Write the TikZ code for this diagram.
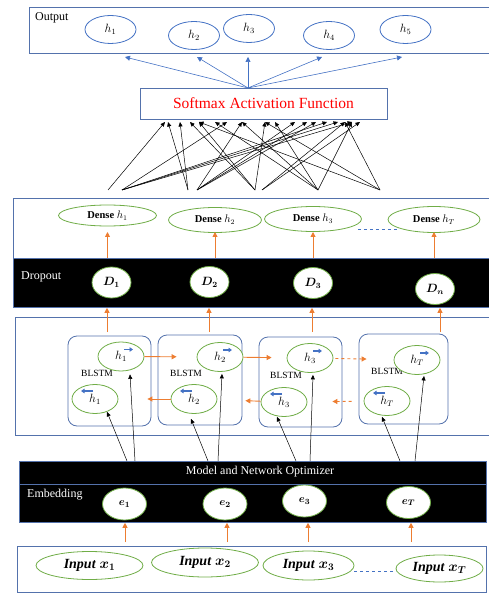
\documentclass[tikz,border=0pt]{standalone}
\usepackage{amsmath}
\usepackage{fontspec}
\setmainfont{Liberation Serif}
\usepackage{tikz}
\usetikzlibrary{positioning, arrows.meta, shapes.geometric}
\definecolor{edgeblue}{RGB}{84,114,172}
\definecolor{ovalgreen}{RGB}{112,173,71}
\definecolor{arrorange}{RGB}{237,125,49}
\definecolor{arrblue}{RGB}{68,114,196}

\begin{document}
\begin{tikzpicture}[x=1pt,y=-1pt,
    layer/.style={draw=edgeblue,line width=0.8pt,inner sep=0pt,anchor=north west},
    darklayer/.style={layer,fill=black},
    oval/.style={ellipse,draw=ovalgreen,fill=white,line width=0.8pt,inner sep=0pt},
    outoval/.style={ellipse,draw=arrblue,line width=0.8pt,inner sep=0pt,minimum width=51,minimum height=28,font=\fontsize{12}{12}\selectfont},
    dense/.style={oval,font=\fontsize{10.5}{12}\selectfont},
    drop/.style={oval,minimum width=39,minimum height=31,font=\fontsize{12}{12}\selectfont},
    hcell/.style={oval,minimum width=46,minimum height=29,font=\fontsize{11.5}{12}\selectfont},
    enode/.style={oval,minimum width=44,minimum height=32,font=\fontsize{11}{12}\selectfont},
    inoval/.style={oval,font=\fontsize{14}{15}\selectfont},
    cell/.style={draw=edgeblue,rounded corners=9pt,line width=0.8pt,minimum height=90},
    tag/.style={font=\fontsize{12}{14}\selectfont,anchor=west,inner sep=0pt},
    blk/.style={-{Triangle[length=4.5pt,width=4pt]},line width=0.5pt},
    org/.style={-{Triangle[length=5pt,width=5pt]},arrorange,line width=0.9pt},
    blu/.style={-{Triangle[length=5pt,width=5pt]},arrblue,line width=0.6pt},
    hvec/.style={-{Triangle[length=3.5pt,width=4.5pt]},arrblue,line width=1.2pt},
    gap/.style={arrblue,dashed,line width=0.7pt}]

\useasboundingbox (0,0) rectangle (488,593);

\node[layer,minimum width=470,minimum height=46] (out) at (29,7) {};
\node[tag] (out_tag) at (35,18) {Output};
\node[outoval] (h_1) at (110.5,29.5) {$h_1$};
\node[outoval] (h_2) at (194,35.5) {$h_2$};
\node[outoval] (h_3) at (249,28.5) {$h_3$};
\node[outoval] (h_4) at (329,35.5) {$h_4$};
\node[outoval] (h_5) at (405.5,29.5) {$h_5$};

\node[draw=edgeblue,line width=0.8pt,minimum width=247,minimum height=31,inner sep=0pt,text=red,font=\fontsize{15.5}{17}\selectfont] (sm) at (263.5,103.5) {Softmax Activation Function};

\coordinate (fan) at (248,88);
\foreach \x [count=\i] in {125,197,248,322,402}
  \coordinate (o_\i) at (\x,57);
\foreach \i in {1,...,5}
  \draw[blu] (fan) -- (o_\i);

\foreach \x [count=\i] in {108,122,188,197,255,262,318,380}
  \coordinate (s_\i) at (\x,190);
\foreach \x [count=\i] in {165,168,180,190,199,215,227,242,265,275,295,307,316,327,338,345,352,360}
  \coordinate (t_\i) at (\x,122);
\foreach \a/\b in {1/1,2/7,2/14,2/15,2/17,3/2,3/3,4/8,4/11,4/12,4/13,5/4,5/5,5/9,6/16,6/18,7/6,7/8,7/10,7/17,8/9,8/5,8/16}
  \draw[blk] (s_\a) -- (t_\b);

\node[layer,minimum width=482,minimum height=60] (dense) at (13,198) {};
\node[darklayer,minimum width=482,minimum height=49] (dropl) at (13,258) {};
\node[tag,text=white] (drop_tag) at (21,277) {Dropout};
\node[dense,minimum width=98,minimum height=21] (dh_1) at (107.5,215.5) {\textbf{Dense} $h_1$};
\node[dense,minimum width=93,minimum height=25] (dh_2) at (215,220) {\textbf{Dense} $h_2$};
\node[dense,minimum width=97,minimum height=25] (dh_3) at (313,219) {\textbf{Dense} $h_3$};
\node[dense,minimum width=92,minimum height=26] (dh_T) at (434,219.5) {\textbf{Dense} $h_T$};
\draw[gap] ([shift={(-4,10)}]dh_3.east) -- ++(40,0);
\foreach \i in {1,2,3,T}
  \draw[org] (dh_\i.south |- dropl.north) -- ++(0,-26);
\node[drop] (D_1) at (111.5,282.5) {$\boldsymbol{D_1}$};
\node[drop] (D_2) at (209.5,282) {$\boldsymbol{D_2}$};
\node[drop] (D_3) at (313,283) {$\boldsymbol{D_3}$};
\node[drop] (D_n) at (435,289) {$\boldsymbol{D_n}$};

\node[layer,minimum width=480,minimum height=118] (blstm) at (15,317) {};
\node[cell,minimum width=83] (cell_1) at (109.5,381) {};
\node[cell,minimum width=84] (cell_2) at (200,380) {};
\node[cell,minimum width=83] (cell_3) at (300.5,382) {};
\node[cell,minimum width=89] (cell_4) at (403.5,379) {};
\foreach \x/\y [count=\i] in {97/373,186/373,286/375,387/371}
  \node[font=\fontsize{9.5}{10}\selectfont] (lb_\i) at (\x,\y) {BLSTM};
\node[hcell] (fw_1) at (121,356.5) {$h_1$};
\node[hcell] (fw_2) at (220,357) {$h_2$};
\node[hcell] (fw_3) at (310,358) {$h_3$};
\node[hcell] (fw_4) at (417,360) {$h_T$};
\node[hcell] (bw_1) at (95,399) {$h_1$};
\node[hcell] (bw_2) at (194,399) {$h_2$};
\node[hcell] (bw_3) at (284,402) {$h_3$};
\node[hcell] (bw_4) at (387,401) {$h_T$};
\foreach \i in {1,...,4} {
  \draw[hvec] ([shift={(3,-7)}]fw_\i.center) -- ++(9,0);
  \draw[hvec] ([shift={(-2,-8)}]bw_\i.center) -- ++(-12,0);
}
\draw[org,shorten >=20pt] (fw_1) -- (fw_2);
\draw[org,shorten >=15pt] (fw_2) -- (fw_3);
\draw[org,dashed,shorten <=2pt,shorten >=27pt] (fw_3) -- (fw_4);
\draw[org,shorten >=29pt] (bw_2) -- (bw_1);
\draw[org,shorten >=28pt] (bw_3) -- (bw_2);
\draw[org,dashed,shorten <=12pt,shorten >=25pt] (bw_4) -- (bw_3);
\foreach \x [count=\i] in {107,209,312,440}
  \coordinate (u_\i) at (\x,332);
\foreach \i in {1,...,4}
  \draw[org] (u_\i) -- (u_\i |- dropl.south);

\node[darklayer,minimum width=467,minimum height=23] (opt) at (19,461) {};
\node[text=white,font=\fontsize{12}{14}\selectfont] (opt_tag) at (260,472) {Model and Network Optimizer};
\node[darklayer,minimum width=467,minimum height=38] (emb) at (19,484) {};
\node[tag,text=white] (emb_tag) at (27,495) {Embedding};
\node[enode] (e_1) at (124.5,504) {$\boldsymbol{e_1}$};
\node[enode] (e_2) at (225,504) {$\boldsymbol{e_2}$};
\node[enode] (e_3) at (304.5,501) {$\boldsymbol{e_3}$};
\node[enode] (e_T) at (408.5,502.5) {$\boldsymbol{e_T}$};

\foreach \i/\xb/\xf in {1/127/135,2/208/218,3/296/310,4/400/415} {
  \coordinate (mb_\i) at (\xb,461);
  \coordinate (mf_\i) at (\xf,461);
}
\foreach \i/\bx/\by/\fx/\fy in {1/12/-2/9/3,2/-3/5/2/2,3/-7/0/3/2,4/-5/1/7/1} {
  \draw[blk] (mb_\i) -- ([shift={(\bx,\by)}]bw_\i.south);
  \draw[blk] (mf_\i) -- ([shift={(\fx,\fy)}]fw_\i.south);
}

\foreach \x [count=\i] in {125,227,308,411}
  \coordinate (v_\i) at (\x,542);
\foreach \i in {1,...,4}
  \draw[org] (v_\i) -- (v_\i |- emb.south);

\node[layer,minimum width=469,minimum height=46] (inp) at (17,546) {};
\node[inoval,minimum width=107,minimum height=28] (x_1) at (89.5,565.5) {\textbf{\textit{Input}} $\boldsymbol{x_1}$};
\node[inoval,minimum width=107,minimum height=29] (x_2) at (205,562.5) {\textbf{\textit{Input}} $\boldsymbol{x_2}$};
\node[inoval,minimum width=91,minimum height=29] (x_3) at (308.5,565.5) {\textbf{\textit{Input}} $\boldsymbol{x_3}$};
\node[inoval,minimum width=87,minimum height=27] (x_T) at (439.5,568.5) {\textbf{\textit{Input}} $\boldsymbol{x_T}$};
\draw[gap] ([yshift=-5.5pt]x_3.east) -- ++(42,0);
\end{tikzpicture}
\end{document}
